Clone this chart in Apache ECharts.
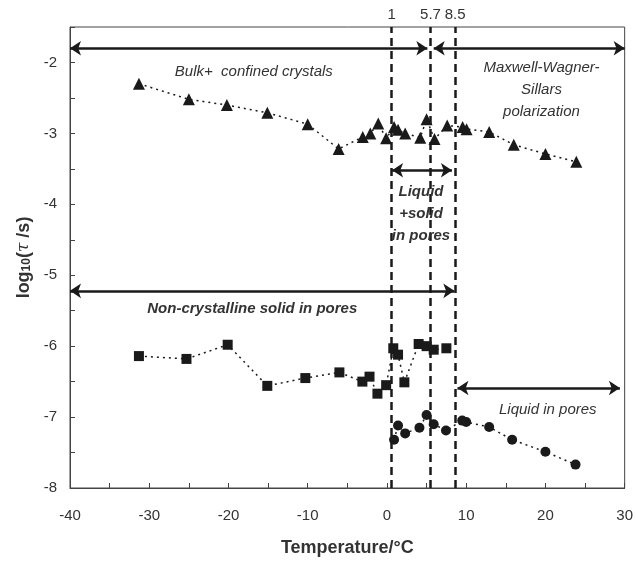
<!DOCTYPE html>
<html>
<head>
<meta charset="utf-8">
<script src="https://cdn.jsdelivr.net/npm/echarts@6/dist/echarts.min.js"></script>
<style>
  html, body { margin: 0; padding: 0; background: #fff; }
  #chart { width: 636px; height: 564px; }
</style>
</head>
<body>
<div id="chart"></div>
<script>
// triangles: bulk + confined crystals / MWS
const triTemp = [-31.3, -25, -20.2, -15.1, -10, -6.1, -3.05, -2.1, -1.1, -0.1, 0.9, 1.4, 2.3, 4.2, 5.0, 6.0, 7.6, 9.55, 10.05, 12.9, 16, 20, 23.9]
const triLog = [-2.30, -2.52, -2.60, -2.71, -2.87, -3.22, -3.05, -3.0, -2.86, -3.07, -2.91, -2.95, -3.0, -3.06, -2.80, -3.08, -2.89, -2.91, -2.94, -2.98, -3.16, -3.29, -3.40]
// squares
const sqTemp = [-31.3, -25.3, -20.1, -15.1, -10.3, -6.0, -3.1, -2.2, -1.2, -0.1, 0.8, 1.4, 2.2, 4.0, 5.0, 5.9, 7.5]
const sqLog = [-6.14, -6.18, -5.98, -6.56, -6.45, -6.37, -6.5, -6.43, -6.67, -6.55, -6.03, -6.12, -6.51, -5.97, -6.0, -6.05, -6.03]
// circles
const ciTemp = [0.9, 1.4, 2.3, 4.1, 5.0, 5.9, 7.45, 9.5, 10.0, 12.9, 15.8, 20, 23.8]
const ciLog = [-7.32, -7.12, -7.23, -7.15, -6.97, -7.1, -7.19, -7.05, -7.07, -7.14, -7.32, -7.49, -7.67]

// vertical dashed lines (drawn position) and their labels
const vlineTemp = [0.6, 5.5, 8.6]
const vlineLabels = ['1', '5.7', '8.5']

const zip = (a, b) => a.map((v, i) => [v, b[i]])

const textColor = '#333'
const markColor = '#1a1a1a'

const arrow = (x1, x2, y) => [{ coord: [x1, y] }, { coord: [x2, y] }]

const note = (x, y, text, bold) => ({
  coord: [x, y],
  label: {
    show: true,
    formatter: text,
    fontStyle: 'italic',
    fontWeight: bold ? 'bold' : 'normal',
    fontSize: 15,
    lineHeight: 22,
    color: textColor,
    fontFamily: 'Liberation Sans, Arial, sans-serif',
    position: 'inside'
  }
})

const chart = echarts.init(document.getElementById('chart'), null, { renderer: 'canvas' })

const option = {
  animation: false,
  textStyle: { fontFamily: 'Liberation Sans, Arial, sans-serif' },
  grid: {
    left: 70, right: 10, top: 27, bottom: 76,
    show: true, borderColor: '#444', borderWidth: 1
  },
  xAxis: {
    type: 'value',
    min: -40, max: 30, interval: 10,
    name: 'Temperature/°C',
    nameLocation: 'middle',
    nameGap: 51,
    nameTextStyle: { fontSize: 18, fontWeight: 'bold', color: textColor },
    axisLine: { show: true, onZero: false, lineStyle: { color: '#444' } },
    axisTick: { inside: true, length: 5, lineStyle: { color: '#444' } },
    minorTick: { show: true, splitNumber: 2, length: 5, lineStyle: { color: '#444' } },
    axisLabel: { fontSize: 15, color: textColor, margin: 20 },
    splitLine: { show: false }
  },
  yAxis: {
    type: 'value',
    min: -8, max: -1.5, interval: 1,
    name: '{b|log}{s|10}{b|(}{t|τ}{b| /s)}',
    nameLocation: 'middle',
    nameGap: 33,
    nameRotate: 90,
    nameTextStyle: {
      rich: {
        b: { fontSize: 18, fontWeight: 'bold', color: textColor },
        s: { fontSize: 12, fontWeight: 'bold', color: textColor, verticalAlign: 'bottom', padding: [6, 0, 0, 0] },
        t: { fontSize: 17, fontStyle: 'italic', fontFamily: 'DejaVu Serif', color: textColor }
      }
    },
    axisLine: { show: true, onZero: false, lineStyle: { color: '#444' } },
    axisTick: { inside: true, length: 5, lineStyle: { color: '#444' } },
    minorTick: { show: true, splitNumber: 2, length: 5, lineStyle: { color: '#444' } },
    axisLabel: { fontSize: 15, color: textColor, margin: 13, showMaxLabel: false },
    splitLine: { show: false }
  },
  series: [
    {
      type: 'line',
      data: zip(triTemp, triLog),
      symbol: 'triangle',
      symbolSize: 12,
      itemStyle: { color: markColor },
      lineStyle: { color: markColor, width: 1.5, type: [2, 4] },
      z: 3,
      markLine: {
        silent: true,
        symbol: ['arrow', 'arrow'],
        symbolSize: 11,
        lineStyle: { color: markColor, width: 2.5, type: 'solid' },
        label: { show: false },
        data: [
          arrow(-40, 5.1, -1.8),
          arrow(5.9, 30, -1.8),
          arrow(0.65, 8.2, -3.52),
          arrow(-40, 8.5, -5.22),
          arrow(8.9, 29.4, -6.59)
        ]
      },
      markPoint: {
        silent: true,
        symbol: 'circle',
        symbolSize: 0,
        data: [
          note(-16.8, -2.13, 'Bulk+  confined crystals', false),
          note(19.5, -2.38, 'Maxwell-Wagner-\nSillars\npolarization', false),
          note(4.3, -4.14, 'Liquid\n+solid\nin pores', true),
          note(-17.0, -5.47, 'Non-crystalline solid in pores', true),
          note(20.3, -6.9, 'Liquid in pores', false)
        ]
      }
    },
    {
      type: 'line',
      data: zip(sqTemp, sqLog),
      symbol: 'rect',
      symbolSize: 10,
      itemStyle: { color: markColor },
      lineStyle: { color: markColor, width: 1.5, type: [2, 4] },
      z: 3,
      markLine: {
        silent: true,
        symbol: ['none', 'none'],
        lineStyle: { color: markColor, width: 2.5, type: [8, 5] },
        label: {
          show: true,
          position: 'end',
          fontSize: 15,
          color: textColor,
          formatter: (p) => vlineLabels[p.dataIndex]
        },
        data: vlineTemp.map(t => ({ xAxis: t }))
      }
    },
    {
      type: 'line',
      data: zip(ciTemp, ciLog),
      symbol: 'circle',
      symbolSize: 10,
      itemStyle: { color: markColor },
      lineStyle: { color: markColor, width: 1.5, type: [2, 4] },
      z: 3
    }
  ]
}

chart.setOption(option)
</script>
</body>
</html>
